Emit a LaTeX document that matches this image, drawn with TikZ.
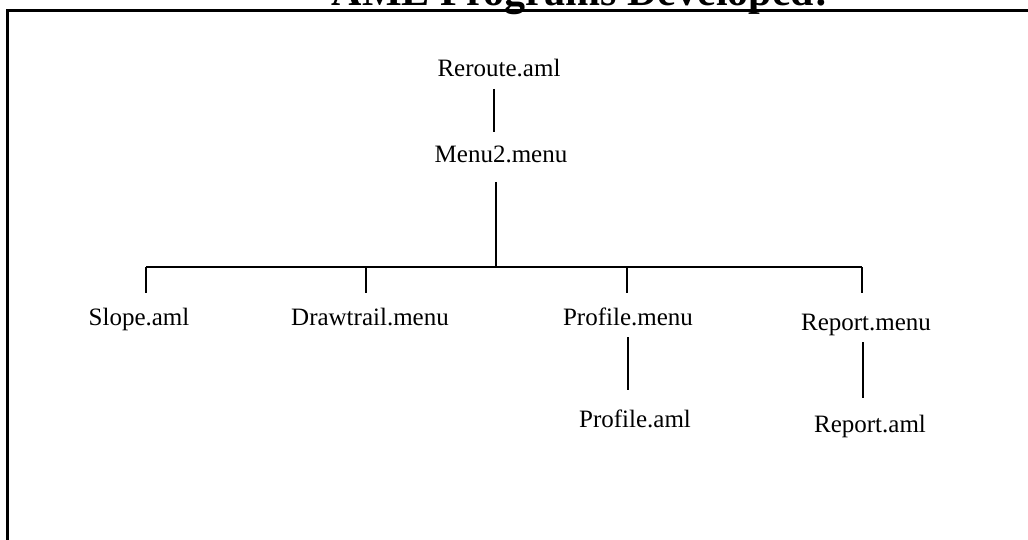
\documentclass[tikz,border=0pt]{standalone}
\usepackage{fontspec}
\setmainfont{Liberation Serif}
\begin{document}
\begin{tikzpicture}[x=1pt,y=-1pt,
  lbl/.style={font=\fontsize{25}{25}\selectfont, anchor=base, inner sep=0pt,
    text height=17pt, text depth=5pt, outer ysep=7pt},
  conn/.style={line width=1.4pt},
  frame/.style={line width=2.6pt}]
\useasboundingbox (0,0) rectangle (1028,540);
\begin{scope}
\clip (0,0) rectangle (1028,540);
\node[font=\bfseries\fontsize{42}{42}\selectfont, anchor=base, inner sep=0pt] (title) at (580,6) {AML Programs Developed:};
\draw[frame] (7.7,560) -- (7.7,10.3) -- (1040,10.3);
\end{scope}
\node[lbl] (r) at (499,77) {Reroute.aml};
\node[lbl] (m) at (501,163) {Menu2.menu};
\node[lbl] (s) at (139,325) {Slope.aml};
\node[lbl] (d) at (370,325) {Drawtrail.menu};
\node[lbl] (p) at (628,325) {Profile.menu};
\node[lbl] (rp) at (866,330) {Report.menu};
\node[lbl] (pa) at (635,427) {Profile.aml};
\node[lbl] (ra) at (870,432) {Report.aml};
\coordinate (bus) at (496,267);
\coordinate (j1) at (146,267);
\coordinate (j2) at (366,267);
\coordinate (j3) at (627,267);
\coordinate (j4) at (862,267);
\draw[conn] ([xshift=-5pt]r.south) -- ([xshift=-7pt,yshift=7pt]m.north);
\draw[conn] ([xshift=-5pt,yshift=-7pt]m.south) -- (bus);
\draw[conn] (j1) -- (j4);
\draw[conn] (j1) -- ([yshift=8pt]j1 |- s.north);
\draw[conn] (j2) -- ([yshift=8pt]j2 |- d.north);
\draw[conn] (j3) -- ([yshift=8pt]j3 |- p.north);
\draw[conn] (j4) -- ([yshift=13pt]j4 |- rp.north);
\draw[conn] (p.south) -- ([yshift=13pt]p.south |- pa.north);
\draw[conn] ([xshift=-3pt]rp.south) -- ([xshift=-3pt,yshift=10pt]rp.south |- ra.north);
\end{tikzpicture}
\end{document}
